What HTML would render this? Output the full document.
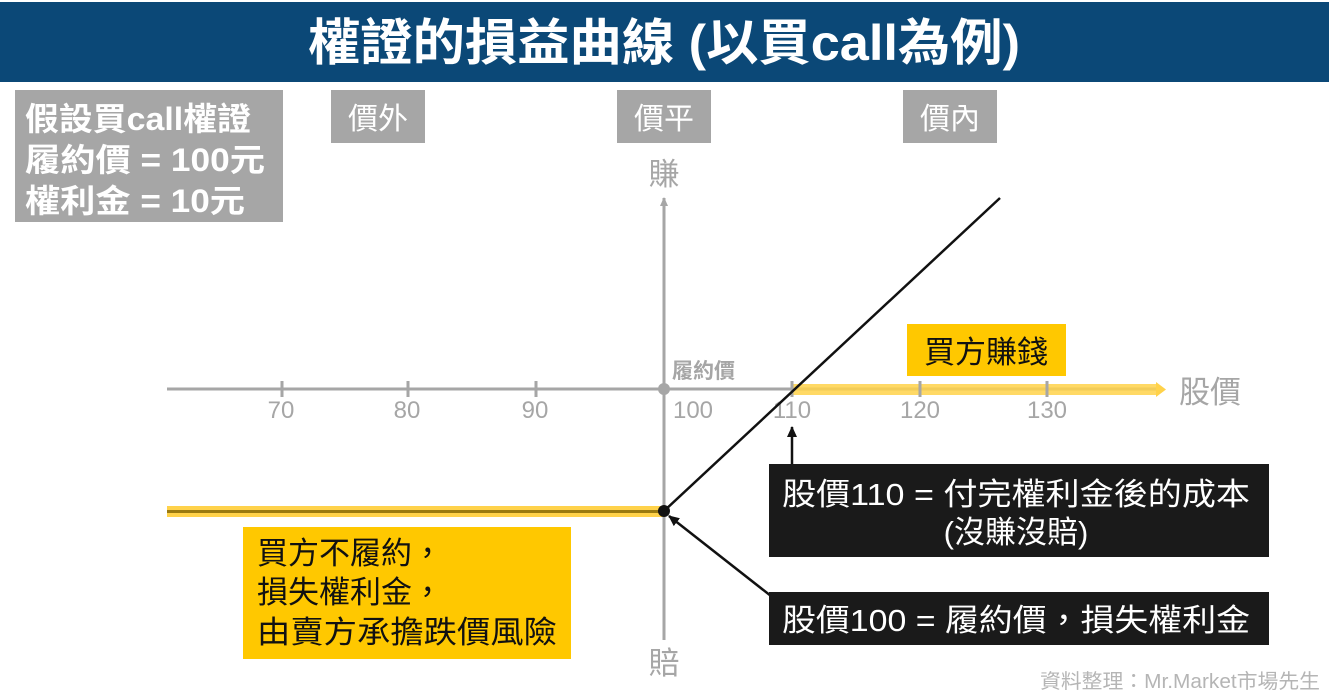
<!DOCTYPE html>
<html><head><meta charset="utf-8"><style>
html,body{margin:0;padding:0;background:#fff;width:1329px;height:696px;overflow:hidden}
svg{display:block}
text{font-family:"Liberation Sans","Noto Sans CJK TC",sans-serif}
</style></head><body>
<svg width="1329" height="696" viewBox="0 0 1329 696">
<defs>
<marker id="ag" markerWidth="10" markerHeight="10" refX="8" refY="5" orient="auto" markerUnits="userSpaceOnUse"><path d="M0,1 L9,5 L0,9 Z" fill="#a6a6a6"/></marker>
<marker id="ab" markerWidth="12" markerHeight="12" refX="10" refY="6" orient="auto" markerUnits="userSpaceOnUse"><path d="M0,1 L11,6 L0,11 Z" fill="#111"/></marker>
</defs>
<rect x="0" y="2" width="1329" height="80" fill="#0b4877"/>
<text x="664" y="60" font-size="50" font-weight="bold" fill="#fff" text-anchor="middle" textLength="712" lengthAdjust="spacingAndGlyphs">權證的損益曲線 (以買call為例)</text>

<rect x="15" y="90" width="268" height="132" fill="#a6a6a6"/>
<g font-size="32" font-weight="bold" fill="#fff">
<text x="25" y="130" textLength="226" lengthAdjust="spacingAndGlyphs">假設買call權證</text>
<text x="25" y="171" textLength="240" lengthAdjust="spacingAndGlyphs">履約價 = 100元</text>
<text x="25" y="212" textLength="220" lengthAdjust="spacingAndGlyphs">權利金 = 10元</text>
</g>
<g font-size="30" fill="#fff" text-anchor="middle">
<rect x="331" y="90" width="94" height="53" fill="#a6a6a6"/><text x="378" y="129">價外</text>
<rect x="617" y="90" width="94" height="53" fill="#a6a6a6"/><text x="664" y="129">價平</text>
<rect x="903" y="90" width="94" height="53" fill="#a6a6a6"/><text x="950" y="129">價內</text>
</g>
<g font-size="31" fill="#a6a6a6" text-anchor="middle">
<text x="664" y="185">賺</text>
<text x="664" y="674">賠</text>
<text x="1210" y="403">股價</text>
</g>
<line x1="664" y1="640" x2="664" y2="198" stroke="#a6a6a6" stroke-width="3" marker-end="url(#ag)"/>
<line x1="167" y1="389" x2="1163" y2="389" stroke="#a6a6a6" stroke-width="3"/>
<rect x="792" y="384" width="366" height="11" fill="#ffd24a" opacity="0.85"/>
<path d="M1156,382 L1166,389.5 L1156,397 Z" fill="#ffd24a"/>
<g stroke="#a6a6a6" stroke-width="3">
<line x1="282" y1="381" x2="282" y2="397"/><line x1="408" y1="381" x2="408" y2="397"/>
<line x1="536" y1="381" x2="536" y2="397"/><line x1="792" y1="381" x2="792" y2="397"/>
<line x1="920" y1="381" x2="920" y2="397"/><line x1="1047" y1="381" x2="1047" y2="397"/>
</g>
<g font-size="24" fill="#a6a6a6" text-anchor="middle">
<text x="281" y="418">70</text><text x="407" y="418">80</text><text x="535" y="418">90</text>
<text x="693" y="418">100</text><text x="792" y="418">110</text><text x="920" y="418">120</text><text x="1047" y="418">130</text>
</g>
<text x="672" y="378" font-size="21" font-weight="bold" fill="#a6a6a6">履約價</text>
<circle cx="664" cy="389" r="6" fill="#a6a6a6"/>
<rect x="167" y="506" width="497" height="11" fill="#ffd24a"/>
<line x1="167" y1="511.5" x2="664" y2="511.5" stroke="#9a7a10" stroke-width="3"/>
<line x1="664" y1="511" x2="1000" y2="198" stroke="#111" stroke-width="2.5"/>
<circle cx="664" cy="511" r="6" fill="#111"/>
<rect x="907" y="324" width="159" height="52" fill="#ffc800"/>
<text x="986" y="363" font-size="31" fill="#111" text-anchor="middle">買方賺錢</text>
<line x1="792" y1="464" x2="792" y2="427" stroke="#111" stroke-width="2.5" marker-end="url(#ab)"/>
<line x1="771" y1="596" x2="669" y2="516" stroke="#111" stroke-width="2.5" marker-end="url(#ab)"/>
<rect x="769" y="464" width="500" height="93" fill="#1a1a1a"/>
<text x="1016" y="505" font-size="31" fill="#fff" text-anchor="middle" textLength="468" lengthAdjust="spacingAndGlyphs">股價110 = 付完權利金後的成本</text>
<text x="1016" y="543" font-size="31" fill="#fff" text-anchor="middle">(沒賺沒賠)</text>
<rect x="769" y="592" width="500" height="53" fill="#1a1a1a"/>
<text x="1016" y="631" font-size="31" fill="#fff" text-anchor="middle" textLength="468" lengthAdjust="spacingAndGlyphs">股價100 = 履約價，損失權利金</text>
<rect x="243" y="527" width="328" height="132" fill="#ffc800"/>
<g font-size="31" fill="#111">
<text x="257" y="564">買方不履約，</text>
<text x="257" y="603">損失權利金，</text>
<text x="257" y="643" textLength="300" lengthAdjust="spacingAndGlyphs">由賣方承擔跌價風險</text>
</g>
<text x="1320" y="688" font-size="20" fill="#b5b5b5" text-anchor="end" textLength="280" lengthAdjust="spacingAndGlyphs">資料整理：Mr.Market市場先生</text>
</svg>
</body></html>
